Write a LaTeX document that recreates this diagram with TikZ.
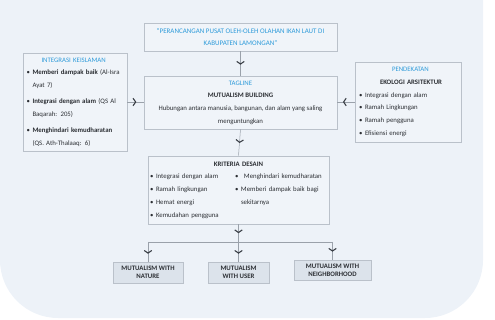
\documentclass[tikz,border=0pt]{standalone}
\usepackage{fontspec}
\setmainfont{Carlito}
\usetikzlibrary{arrows.meta,decorations.markings}

\definecolor{panel}{HTML}{EDF2F8}
\definecolor{boxfill}{HTML}{F0F4F9}
\definecolor{boxline}{HTML}{BAC1CA}
\definecolor{headblue}{HTML}{2E9BDA}
\definecolor{bodytxt}{HTML}{2C2F34}
\definecolor{tagfill}{HTML}{DCE3EB}
\definecolor{wire}{HTML}{9AA1AA}
\definecolor{tipcol}{HTML}{3A3F46}

% bullet mark and the indent of a continued line
\newcommand{\bul}{\makebox[6pt][l]{\textbullet}}
\newcommand{\cont}{\hspace*{6pt}}

\tikzset{
  box/.style={draw=boxline, line width=0.8pt, fill=boxfill, inner sep=0pt,
    text=bodytxt, font=\fontsize{6.8}{12.7}\selectfont},
  outcome/.style={draw=boxline, line width=0.8pt, fill=tagfill, inner sep=0pt,
    text=bodytxt, align=center, font=\fontsize{6.8}{8.2}\selectfont\bfseries},
  flow/.style={draw=wire, line width=0.5pt, postaction=decorate,
    decoration={markings, mark=at position #1 with
      {\arrow[tipcol]{Straight Barb[length=2.6pt,width=7.5pt,line width=1.1pt]}}}},
  wireline/.style={draw=wire, line width=0.5pt},
}

\begin{document}
\begin{tikzpicture}[x=1pt,y=-1pt]
\useasboundingbox (0,0) rectangle (495,320);

% background panel with rounded lower corners
\fill[panel, rounded corners=58pt] (0,-90) rectangle (483,318);

% title
\node[box, minimum width=193pt, minimum height=28pt, align=center, text=headblue,
      font=\fontsize{7}{12.7}\selectfont]
  (title) at (240.5,37)
  {“PERANCANGAN PUSAT OLEH-OLEH OLAHAN IKAN LAUT DI\\KABUPATEN LAMONGAN”};

% tagline
\node[box, minimum width=193pt, minimum height=53pt, align=center]
  (tag) at (240.5,102.5)
  {{\color{headblue}TAGLINE}\\\textbf{MUTUALISM BUILDING}\\
   Hubungan antara manusia, bangunan, dan alam yang saling\\menguntungkan};

% islamic integration
\node[box, minimum width=104pt, minimum height=98pt, text width=97pt, align=left]
  (islam) at (75,102)
  {\hspace*{15pt}{\color{headblue}INTEGRASI KEISLAMAN}\\
   \bul\textbf{Memberi dampak baik} (Al-Isra\\
   \cont Ayat 7)\\[3.3pt]
   \bul\textbf{Integrasi dengan alam} (QS Al\\
   \cont Baqarah: 205)\\[3.3pt]
   \bul\textbf{Menghindari kemudharatan}\\
   \cont (QS. Ath-Thalaaq: 6)};

% approach
\node[box, minimum width=106pt, minimum height=80pt, text width=98pt, align=left]
  (approach) at (408,102)
  {\hspace*{33pt}{\color{headblue}PENDEKATAN}\\
   \hspace*{21pt}\textbf{EKOLOGI ARSITEKTUR}\\
   \bul Integrasi dengan alam\\
   \bul Ramah Lingkungan\\
   \bul Ramah pengguna\\
   \bul Efisiensi energi};

% design criteria
\node[box, minimum width=181pt, minimum height=68pt, text width=177pt, align=center]
  (criteria) at (238.5,190)
  {\textbf{KRITERIA DESAIN}\par
   \begin{minipage}[t]{85pt}\raggedright
     \bul Integrasi dengan alam\\
     \bul Ramah lingkungan\\
     \bul Hemat energi\\
     \bul Kemudahan pengguna
   \end{minipage}%
   \begin{minipage}[t]{92pt}\raggedright
     \bul\hspace{3pt}Menghindari kemudharatan\\
     \bul Memberi dampak baik bagi\\
     \cont sekitarnya
   \end{minipage}};

% outcomes
\node[outcome, minimum width=70pt, minimum height=21pt] (nature) at (148,272.5)
  {MUTUALISM WITH\\NATURE};
\node[outcome, minimum width=61pt, minimum height=21pt] (user) at (238.5,272.5)
  {MUTUALISM\\WITH USER};
\node[outcome, minimum width=77pt, minimum height=20pt] (neigh) at (332.5,270)
  {MUTUALISM WITH\\NEIGHBORHOOD};

% connectors
\draw[flow=0.55] (title.south) -- (tag.north);
\draw[flow=0.52] (tag.south) -- (criteria.north);
\draw[flow=0.55] (islam.east) -- (islam.east -| tag.west);
\draw[flow=0.68] (approach.west) -- (approach.west -| tag.east);

\coordinate (busL) at (148,242);
\coordinate (busR) at (332.5,242);
\coordinate (busM) at (238.5,242);
\draw[flow=0.5] (criteria.south) -- (busM);
\draw[wireline] (busL) -- (busR);
\draw[flow=0.6] (busL) -- (nature.north);
\draw[flow=0.6] (busM) -- (user.north);
\draw[flow=0.55] (busR) -- (neigh.north);
\end{tikzpicture}
\end{document}
